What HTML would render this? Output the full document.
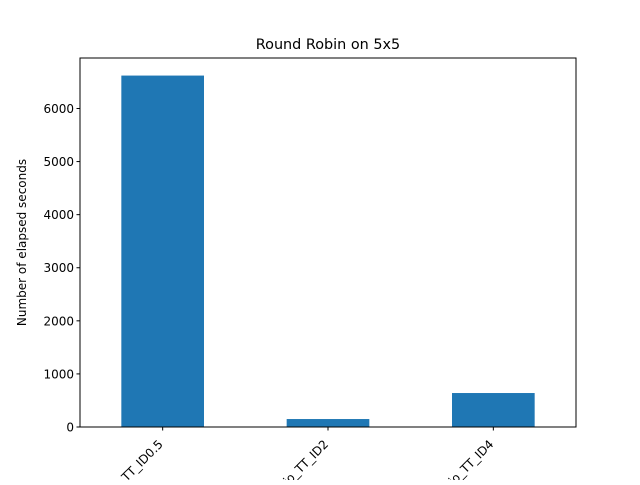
<!DOCTYPE html>
<html><head><meta charset="utf-8"><style>
body{margin:0;background:#fff}
svg text{font-family:"DejaVu Sans","Liberation Sans",sans-serif;fill:#000}
</style></head><body>
<svg id="c" width="640" height="480" xmlns="http://www.w3.org/2000/svg">
<rect width="640" height="480" fill="#fff"/>
<text x="328" y="49" font-size="14.4" text-anchor="middle">Round Robin on 5x5</text>
<text transform="translate(26,242.5) rotate(-90)" font-size="12" text-anchor="middle">Number of elapsed seconds</text>
<g id="bars"></g><g id="yt"></g><g id="xt"></g>
<rect x="80" y="58" width="496" height="369" fill="none" stroke="#000" stroke-width="1"/>
</svg>
<script>
const categories=["ratio_TT_ID0.5","ratio_TT_ID2","ratio_TT_ID4"];
const values=[6620,150,640];
const yTicks=[0,1000,2000,3000,4000,5000,6000];
const L=80,R=576,T=58,B=427;
const ymax=Math.max(...values)*1.05;
const y=v=>B-(v/ymax)*(B-T);
const xs=i=>L+(i+0.5)*(R-L)/categories.length;
const bw=0.5*(R-L)/categories.length;
const NS="http://www.w3.org/2000/svg";
function mk(t,a,p){const e=document.createElementNS(NS,t);for(const k in a)e.setAttribute(k,a[k]);p.appendChild(e);return e;}
const bars=document.getElementById('bars'),yt=document.getElementById('yt'),xt=document.getElementById('xt');
values.forEach((v,i)=>{
 const r=mk('rect',{x:xs(i)-bw/2,y:y(v),width:bw,height:B-y(v),fill:'#1f77b4'},bars);
 
 
 const tk=mk('line',{x1:xs(i),x2:xs(i),y1:B,y2:B+3.5,stroke:'#000'},xt);
 
 
 const t=mk('text',{transform:`translate(${xs(i)+1},${B+18}) rotate(-45)`,'font-size':12,'text-anchor':'end'},xt);
 t.textContent=categories[i];
 
 
});
yTicks.forEach(v=>{
 const tk=mk('line',{x1:L-3.5,x2:L,y1:y(v),y2:y(v),stroke:'#000'},yt);
 
 
 const t=mk('text',{x:L-6,y:y(v)+4.5,'font-size':12,'text-anchor':'end'},yt);
 t.textContent=v;
 
 
});
</script>
</body></html>
